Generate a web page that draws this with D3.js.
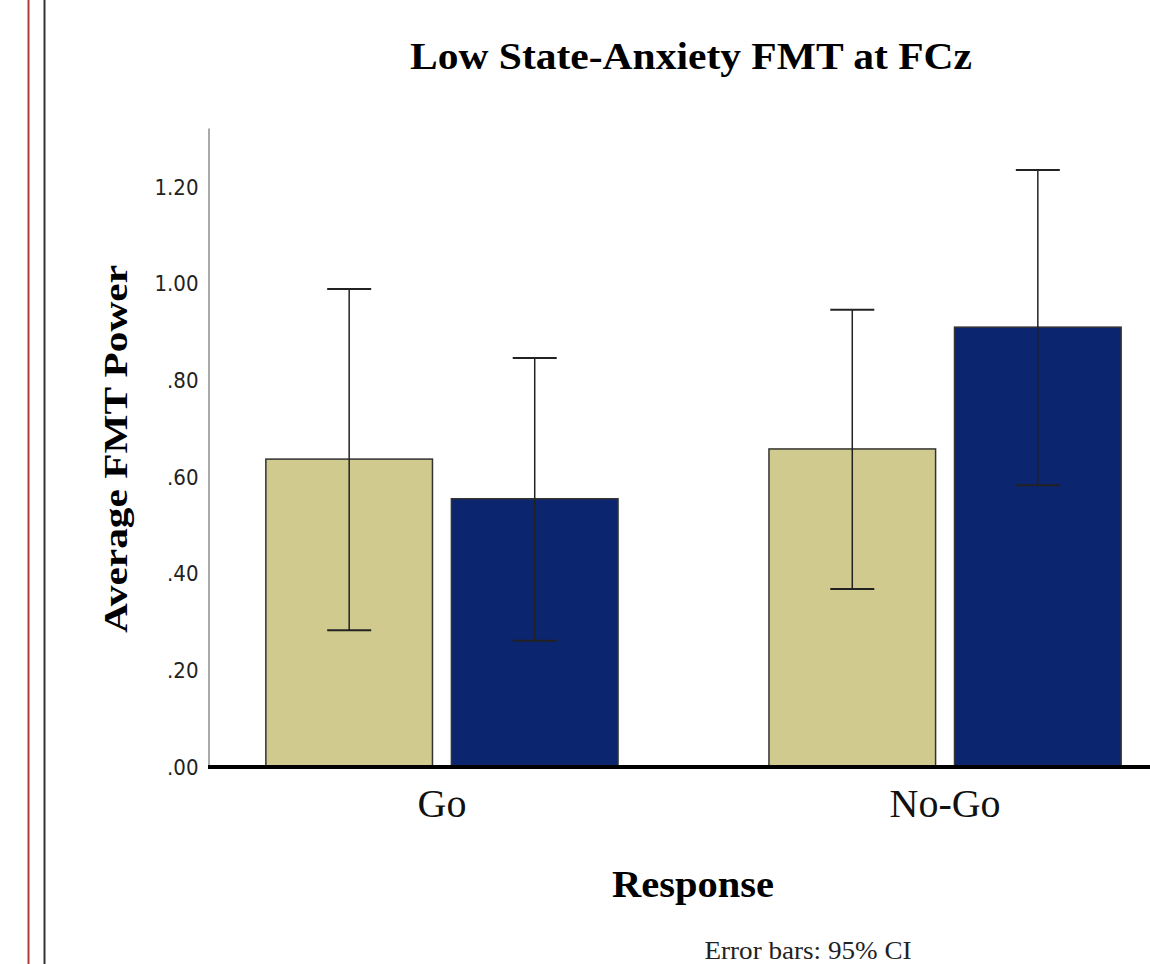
<!DOCTYPE html>
<html>
<head>
<meta charset="utf-8">
<script src="https://cdn.jsdelivr.net/npm/d3@7"></script>
<style>
  body { margin: 0; background: #fff; }
  svg { display: block; }
</style>
</head>
<body>
<div id="chart"></div>
<script>
// data
var responses = ['Go', 'No-Go']
var groups = ['Group A', 'Group B']
var means = [[0.637, 0.555], [0.658, 0.910]]
var ciLow = [[0.283, 0.261], [0.368, 0.583]]
var ciHigh = [[0.989, 0.846], [0.946, 1.235]]
var yTicks = [0, 0.2, 0.4, 0.6, 0.8, 1.0, 1.2]
var colors = ['#d0ca8e', '#0b256f']

var W = 1150, H = 964

var svg = d3.select('#chart').append('svg')
    .attr('width', W)
    .attr('height', H)

// page frame lines at the left
svg.append('line').attr('x1', 28.5).attr('x2', 28.5).attr('y1', 0).attr('y2', H)
    .attr('stroke', '#b03a3e').attr('stroke-width', 2)
svg.append('line').attr('x1', 44.5).attr('x2', 44.5).attr('y1', 0).attr('y2', H)
    .attr('stroke', '#333').attr('stroke-width', 2)

var y = d3.scaleLinear()
    .domain([0, 1.322])
    .range([767, 128])

var x0 = d3.scaleBand()
    .domain(responses)
    .range([208, 1179])
    .paddingInner(0.3)
    .paddingOuter(0.115)

var x1 = d3.scaleBand()
    .domain(groups)
    .range([0, x0.bandwidth()])
    .paddingInner(0.102)

// y axis
var yAxis = d3.axisLeft(y)
    .tickValues(yTicks)
    .tickSize(0)
    .tickPadding(10)
    .tickFormat(function(d){ return d3.format('.2f')(d).replace(/^0\./, '.') })

var gy = svg.append('g')
    .attr('transform', 'translate(208.5,0)')
    .call(yAxis)
gy.select('.domain').attr('stroke', '#aaa').attr('stroke-width', 2)
gy.selectAll('text')
    .style('font-family', '"DejaVu Sans Condensed", "DejaVu Sans", sans-serif')
    .style('font-stretch', 'condensed')
    .style('font-size', '22px')
    .attr('fill', '#222')

// bars
var data = []
responses.forEach(function(r, i){
  groups.forEach(function(g, j){
    data.push({ resp: r, grp: g, j: j, mean: means[i][j], lo: ciLow[i][j], hi: ciHigh[i][j] })
  })
})

svg.append('g').attr('class', 'bars')
  .selectAll('rect')
  .data(data)
  .enter().append('rect')
    .attr('x', function(d){ return x0(d.resp) + x1(d.grp) })
    .attr('y', function(d){ return y(d.mean) })
    .attr('width', x1.bandwidth())
    .attr('height', function(d){ return y(0) - y(d.mean) })
    .attr('fill', function(d){ return colors[d.j] })
    .attr('stroke', '#333')
    .attr('stroke-width', 1.5)

// error bars
var capW = 22
var eb = svg.append('g').attr('class', 'errorbars')
  .selectAll('g')
  .data(data)
  .enter().append('g')
    .attr('transform', function(d){ return 'translate(' + (x0(d.resp) + x1(d.grp) + x1.bandwidth() / 2) + ',0)' })
eb.append('line')
    .attr('y1', function(d){ return y(d.lo) })
    .attr('y2', function(d){ return y(d.hi) })
    .attr('stroke', '#222').attr('stroke-width', 1.5)
eb.append('line')
    .attr('x1', -capW).attr('x2', capW)
    .attr('y1', function(d){ return y(d.hi) })
    .attr('y2', function(d){ return y(d.hi) })
    .attr('stroke', '#222').attr('stroke-width', 2)
eb.append('line')
    .attr('x1', -capW).attr('x2', capW)
    .attr('y1', function(d){ return y(d.lo) })
    .attr('y2', function(d){ return y(d.lo) })
    .attr('stroke', '#222').attr('stroke-width', 2)

// baseline
svg.append('line')
    .attr('x1', 208).attr('x2', W)
    .attr('y1', y(0)).attr('y2', y(0))
    .attr('stroke', '#000').attr('stroke-width', 4)

// x axis labels
var xAxis = d3.axisBottom(x0).tickSize(0).tickPadding(22)
var gx = svg.append('g')
    .attr('transform', 'translate(0,' + y(0) + ')')
    .call(xAxis)
gx.select('.domain').remove()
gx.selectAll('text')
    .style('font-family', '"Liberation Serif", "Times New Roman", serif')
    .style('font-size', '40px')
    .attr('fill', '#111')

// titles
svg.append('text')
    .attr('x', 691).attr('y', 69)
    .attr('text-anchor', 'middle')
    .attr('textLength', 562)
    .attr('lengthAdjust', 'spacingAndGlyphs')
    .style('font-family', '"Liberation Serif", serif')
    .style('font-weight', 'bold')
    .style('font-size', '38px')
    .text('Low State-Anxiety FMT at FCz')

svg.append('text')
    .attr('x', 693).attr('y', 897)
    .attr('text-anchor', 'middle')
    .attr('textLength', 162)
    .attr('lengthAdjust', 'spacingAndGlyphs')
    .style('font-family', '"Liberation Serif", serif')
    .style('font-weight', 'bold')
    .style('font-size', '38px')
    .text('Response')

svg.append('text')
    .attr('transform', 'translate(127,449) rotate(-90)')
    .attr('text-anchor', 'middle')
    .attr('textLength', 368)
    .attr('lengthAdjust', 'spacingAndGlyphs')
    .style('font-family', '"Liberation Serif", serif')
    .style('font-weight', 'bold')
    .style('font-size', '34px')
    .text('Average FMT Power')

svg.append('text')
    .attr('x', 808).attr('y', 959)
    .attr('text-anchor', 'middle')
    .attr('textLength', 207)
    .attr('lengthAdjust', 'spacingAndGlyphs')
    .style('font-family', '"Liberation Serif", serif')
    .style('font-size', '25px')
    .attr('fill', '#222')
    .text('Error bars: 95% CI')
</script>
</body>
</html>
